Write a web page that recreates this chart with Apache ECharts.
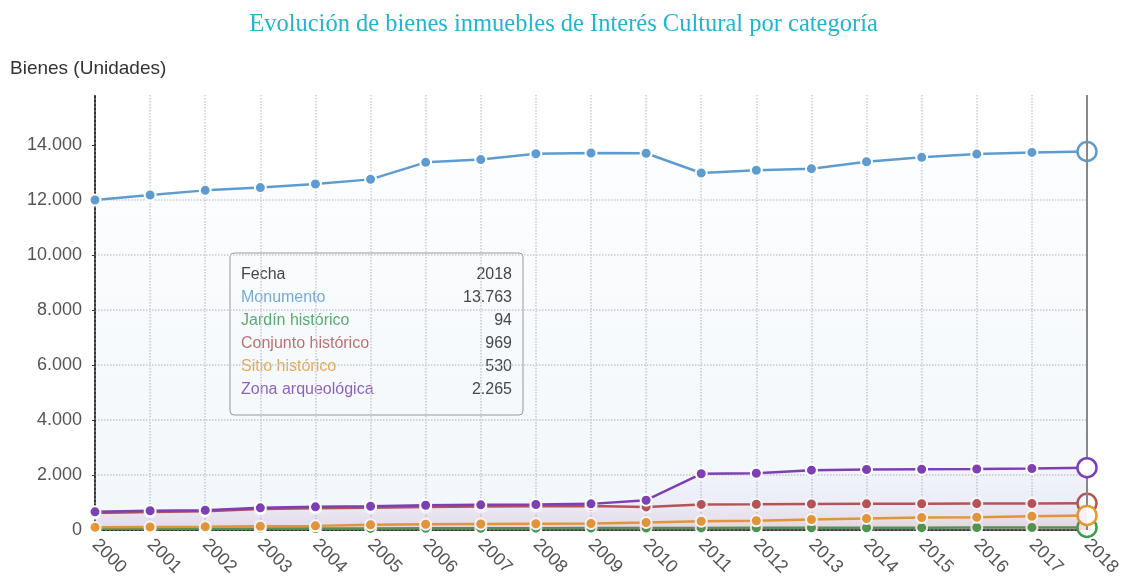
<!DOCTYPE html>
<html>
<head>
<meta charset="utf-8">
<script src="https://cdn.jsdelivr.net/npm/echarts@6/dist/echarts.min.js"></script>
<style>html,body{margin:0;padding:0;background:#fff}#c{width:1127px;height:584px}</style>
</head>
<body>
<div id="c"></div>
<script>
const years = ['2000','2001','2002','2003','2004','2005','2006','2007','2008','2009','2010','2011','2012','2013','2014','2015','2016','2017','2018'];
const monumento = [12000,12180,12350,12450,12580,12750,13370,13470,13680,13710,13700,12980,13080,13140,13390,13550,13670,13730,13763];
const jardin = [45,48,50,52,55,58,62,65,68,70,72,75,78,80,83,86,89,91,94];
const conjunto = [620,650,680,760,790,810,840,850,860,870,840,930,935,945,950,955,960,965,969];
const sitio = [100,110,120,135,150,190,210,220,228,236,272,320,335,380,418,455,465,500,530];
const zona = [660,700,720,807,843,865,900,915,927,950,1083,2044,2065,2175,2200,2210,2220,2235,2265];
const yTicks = [0,2000,4000,6000,8000,10000,12000,14000];

const names = ['Monumento','Jardín histórico','Conjunto histórico','Sitio histórico','Zona arqueológica'];
const colors = ['#5e9ccf','#3a9e4f','#b85450','#e99b2e','#7e3fb4'];
const rgba = ['94,156,207','58,158,79','184,84,80','233,155,46','126,63,180'];
const values = [monumento, jardin, conjunto, sitio, zona];

function fmt(v){return String(v).replace(/\B(?=(\d{3})+(?!\d))/g,'.');}

const chart = echarts.init(document.getElementById('c'));
const last = years.length - 1;
const FONT = '"Liberation Sans", Arial, sans-serif';

const series = values.map((arr, k) => ({
  name: names[k],
  type: 'line',
  z: 2 + k,
  symbol: 'circle',
  symbolSize: 11,
  lineStyle: {color: colors[k], width: 2.5},
  itemStyle: {color: colors[k], borderColor: '#fff', borderWidth: 2},
  areaStyle: {color: new echarts.graphic.LinearGradient(0,0,0,1,[
    {offset:0,color:'rgba('+rgba[k]+',0.02)'},
    {offset:1,color:'rgba('+rgba[k]+',0.12)'}])},
  data: arr.map((v,i) => i === last ? {value: v, symbolSize: 19, itemStyle:{color:'#fff', borderColor: colors[k], borderWidth: 2.5}} : v)
}));
series.unshift({
  type:'line', z:1, data:[], silent:true,
  markLine:{symbol:'none', silent:true, label:{show:false},
    lineStyle:{color:'#888', width:2, type:'solid'},
    data:[{xAxis: years[last]}]}
});

// tooltip-like box
const rowY0 = 267, rowH = 23;
const tipFont = '16px ' + FONT;
const tipChildren = [
  {type:'rect', shape:{x:230,y:253,width:293,height:162,r:4}, style:{fill:'#fff',stroke:'#999',lineWidth:1}},
  {type:'text', x:241, y:rowY0, style:{text:'Fecha', fill:'#444', font:tipFont}},
  {type:'text', x:512, y:rowY0, style:{text:years[last], fill:'#444', align:'right', font:tipFont}}
];
names.forEach((n,k) => {
  tipChildren.push({type:'text', x:241, y:rowY0 + rowH*(k+1), style:{text:n, fill:colors[k], opacity:0.85, font:tipFont}});
  tipChildren.push({type:'text', x:512, y:rowY0 + rowH*(k+1), style:{text:fmt(values[k][last]), fill:'#444', align:'right', font:tipFont}});
});

chart.setOption({
  animation:false,
  backgroundColor:'#fff',
  title:{text:'Evolución de bienes inmuebles de Interés Cultural por categoría', left:'center', top:7,
    textStyle:{fontFamily:'"Liberation Serif", "Times New Roman", serif', fontWeight:'normal', fontSize:24.5, color:'#20b6cf'}},
  grid:{left:95, right:40, top:95, bottom:54},
  xAxis:{type:'category', boundaryGap:false, data:years,
    axisLine:{show:true, lineStyle:{color:'#333', width:2, type:'dotted'}},
    axisTick:{show:false},
    axisLabel:{rotate:-45, fontSize:18, color:'#555', margin:12, fontFamily:FONT},
    splitLine:{show:true, lineStyle:{color:'#ccc', type:'dotted', width:1.5}}},
  yAxis:{type:'value', min:0, max:15818, interval:2000,
    axisLine:{show:true, lineStyle:{color:'#333', width:2, type:'dotted'}},
    axisTick:{show:true, length:3, lineStyle:{color:'#333'}, customValues: yTicks},
    axisLabel:{fontSize:18, color:'#555', margin:13, fontFamily:FONT,
      customValues: yTicks, formatter: v => fmt(v)},
    splitLine:{show:true, showMaxLine:false, lineStyle:{color:'#ccc', type:'dotted', width:1.5}}},
  graphic:[
    {type:'text', left:10, top:59, style:{text:'Bienes (Unidades)', fill:'#333', font:'19px ' + FONT}},
    {type:'group', children: tipChildren, z: 100}
  ],
  series: series
});
</script>
</body>
</html>
